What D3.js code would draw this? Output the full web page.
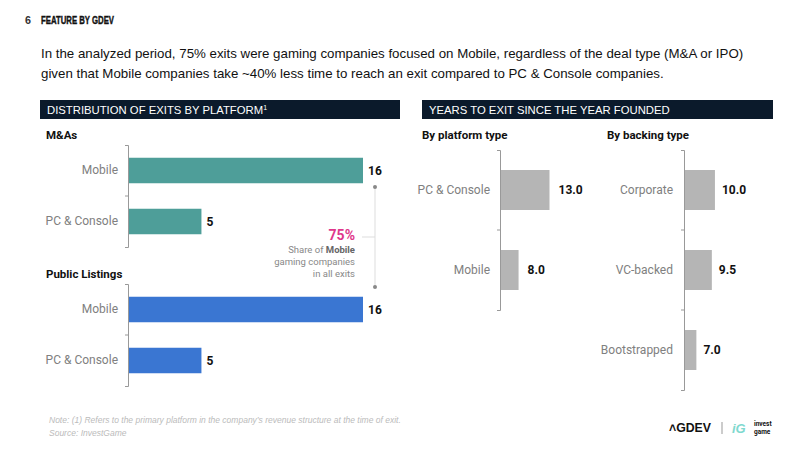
<!DOCTYPE html>
<html>
<head>
<meta charset="utf-8">
<script src="https://cdn.jsdelivr.net/npm/d3@7"></script>
<style>
  body { margin: 0; background: #fff; }
  svg { display: block; }
</style>
</head>
<body>
<svg id="chart" width="800" height="450"></svg>
<script>
// data
const platforms = ['Mobile', 'PC & Console'];
const maExits = [16, 5];
const ipoExits = [16, 5];
const platformYears = ['PC & Console', 'Mobile'];
const platformYearValues = [13.0, 8.0];
const backingTypes = ['Corporate', 'VC-backed', 'Bootstrapped'];
const backingYearValues = [10.0, 9.5, 7.0];

const svg = d3.select('#chart');
const sans = 'Liberation Sans, Arial, sans-serif';
const rob = 'Roboto, sans-serif';

// page header
svg.append('text').attr('x', 25).attr('y', 24)
  .attr('font-family', sans).attr('font-weight', 'bold')
  .attr('font-size', 11).attr('fill', '#333')
  .attr('textLength', 6).attr('lengthAdjust', 'spacingAndGlyphs').text('6');
svg.append('text').attr('x', 41).attr('y', 24)
  .attr('font-family', sans).attr('font-weight', 'bold')
  .attr('font-size', 11).attr('fill', '#111').attr('stroke', '#111').attr('stroke-width', 0.4)
  .attr('textLength', 73).attr('lengthAdjust', 'spacingAndGlyphs').text('FEATURE BY GDEV');

const intro = [
  'In the analyzed period, 75% exits were gaming companies focused on Mobile, regardless of the deal type (M&A or IPO)',
  'given that Mobile companies take ~40% less time to reach an exit compared to PC & Console companies.'
];
svg.selectAll('.intro').data(intro).enter().append('text')
  .attr('class', 'intro')
  .attr('x', 41).attr('y', (d, i) => 58 + i * 20)
  .attr('font-family', sans).attr('font-size', 13.3).attr('fill', '#111')
  .text(d => d);

// section headers
function sectionHead(x, w, label, sup) {
  svg.append('rect').attr('x', x).attr('y', 100).attr('width', w).attr('height', 19)
    .attr('fill', '#0b1a2b');
  const t = svg.append('text').attr('x', x + 7).attr('y', 114)
    .attr('font-family', sans).attr('font-size', 11.3).attr('fill', '#fff').text(label);
  if (sup) t.append('tspan').attr('font-size', 7).attr('dy', -4).text(sup);
}
sectionHead(40, 360, 'DISTRIBUTION OF EXITS BY PLATFORM', '1');
sectionHead(422, 351, 'YEARS TO EXIT SINCE THE YEAR FOUNDED');

function subTitle(x, y, label) {
  svg.append('text').attr('x', x).attr('y', y)
    .attr('font-family', rob).attr('font-weight', 'bold').attr('font-size', 11.5)
    .attr('fill', '#111').text(label);
}

// horizontal bar chart helper
function barChart(opts) {
  const g = svg.append('g').attr('transform', `translate(${opts.x},0)`);
  const y = d3.scaleBand().domain(opts.cats).range(opts.yRange).paddingInner(opts.pad).paddingOuter(opts.pad / 2);
  const x = opts.xScale;
  const data = opts.cats.map((c, i) => ({ c, v: opts.vals[i] }));

  g.selectAll('rect').data(data).enter().append('rect')
    .attr('x', x(x.domain()[0]))
    .attr('y', d => y(d.c))
    .attr('width', d => x(d.v) - x(x.domain()[0]))
    .attr('height', y.bandwidth())
    .attr('fill', opts.color);

  g.selectAll('.val').data(data).enter().append('text')
    .attr('class', 'val')
    .attr('x', d => x(d.v) + opts.valGap)
    .attr('y', d => y(d.c) + y.bandwidth() / 2)
    .attr('dy', '0.35em')
    .attr('font-family', rob).attr('font-weight', 'bold').attr('font-size', 12)
    .attr('fill', '#111')
    .text(d => opts.fmt(d.v));

  const axis = g.append('g')
    .call(d3.axisLeft(y).tickSize(0).tickSizeOuter(3).tickPadding(opts.labelPad));
  axis.select('.domain').attr('stroke', '#999');
  axis.selectAll('text').attr('font-family', rob).attr('font-size', 12).attr('fill', '#808080');

  // separators between categories
  const seps = opts.cats.slice(1).map(c => y(c) - y.step() * y.paddingInner() / 2);
  g.selectAll('.sep').data(seps).enter().append('line')
    .attr('x1', -3).attr('x2', 0)
    .attr('y1', d => d).attr('y2', d => d)
    .attr('stroke', '#999');
  return { x, y };
}

// left: distribution of exits
const xExits = d3.scaleLinear().domain([0, 16]).range([0, 235]);
subTitle(46, 139, 'M&As');
barChart({ x: 128, cats: platforms, vals: maExits, yRange: [145, 247], pad: 0.5,
  xScale: xExits, color: '#4e9e99', valGap: 5, labelPad: 10, fmt: d => d });
subTitle(46, 278, 'Public Listings');
barChart({ x: 128, cats: platforms, vals: ipoExits, yRange: [284, 386], pad: 0.5,
  xScale: xExits, color: '#3a76d2', valGap: 5, labelPad: 10, fmt: d => d });

// annotation bracket
const ann = svg.append('g');
ann.append('line').attr('x1', 375).attr('x2', 375).attr('y1', 187).attr('y2', 287)
  .attr('stroke', '#ddd');
ann.append('line').attr('x1', 362).attr('x2', 375).attr('y1', 237).attr('y2', 237)
  .attr('stroke', '#ddd');
[187, 287].forEach(cy => ann.append('circle').attr('cx', 375).attr('cy', cy).attr('r', 2).attr('fill', '#888'));
ann.append('text').attr('x', 355).attr('y', 240).attr('text-anchor', 'end')
  .attr('font-family', rob).attr('font-weight', 'bold').attr('font-size', 14)
  .attr('fill', '#e0378b').text('75%');
const annLines = [['Share of ', 'Mobile'], ['gaming companies'], ['in all exits']];
annLines.forEach((l, i) => {
  const t = ann.append('text').attr('x', 355).attr('y', 253 + i * 12).attr('text-anchor', 'end')
    .attr('font-family', rob).attr('font-size', 9.5).attr('fill', '#888');
  t.append('tspan').text(l[0]);
  if (l[1]) t.append('tspan').attr('font-weight', 'bold').attr('fill', '#666').text(l[1]);
});

// right: years to exit
const xYears = d3.scaleLinear().domain([5, 13]).range([0, 49.5]);
subTitle(422, 139, 'By platform type');
barChart({ x: 500, cats: platformYears, vals: platformYearValues, yRange: [150, 310], pad: 0.5,
  xScale: xYears, color: '#b5b5b5', valGap: 9, labelPad: 10, fmt: d => d.toFixed(1) });
subTitle(607, 139, 'By backing type');
barChart({ x: 684, cats: backingTypes, vals: backingYearValues, yRange: [150, 390], pad: 0.5,
  xScale: xYears, color: '#b5b5b5', valGap: 7, labelPad: 11, fmt: d => d.toFixed(1) });

// footnote
const notes = [
  'Note: (1) Refers to the primary platform in the company\u2019s revenue structure at the time of exit.',
  'Source: InvestGame'
];
svg.selectAll('.note').data(notes).enter().append('text')
  .attr('class', 'note')
  .attr('x', 49).attr('y', (d, i) => 423 + i * 13)
  .attr('font-family', sans).attr('font-style', 'italic').attr('font-size', 8.5)
  .attr('fill', '#bbb').text(d => d);

// logos
svg.append('text').attr('x', 669).attr('y', 432)
  .attr('font-family', sans).attr('font-weight', 'bold')
  .attr('font-size', 12).attr('fill', '#111')
  .attr('textLength', 42).attr('lengthAdjust', 'spacingAndGlyphs').text('\u02c4GDEV');
svg.append('line').attr('x1', 722).attr('x2', 722).attr('y1', 422).attr('y2', 434)
  .attr('stroke', '#999');
svg.append('text').attr('x', 732).attr('y', 433)
  .attr('font-family', sans).attr('font-weight', 'bold').attr('font-style', 'italic')
  .attr('font-size', 13).attr('fill', '#7fd9cf').text('iG');
svg.append('text').attr('x', 754).attr('y', 425.5)
  .attr('font-family', rob).attr('font-weight', 'bold').attr('font-size', 6.5)
  .attr('fill', '#111').text('invest');
svg.append('text').attr('x', 754).attr('y', 433.5)
  .attr('font-family', rob).attr('font-weight', 'bold').attr('font-size', 6.5)
  .attr('fill', '#111').text('game');
</script>
</body>
</html>
